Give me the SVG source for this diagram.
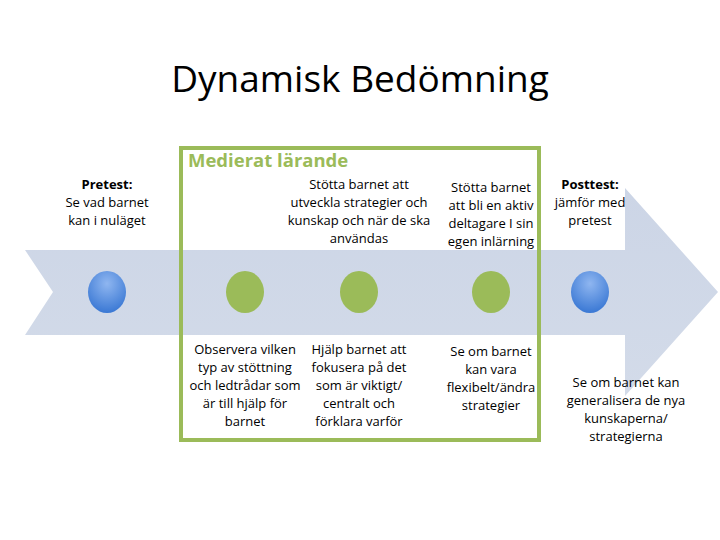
<svg xmlns="http://www.w3.org/2000/svg" width="720" height="540" viewBox="0 0 720 540">
<defs>
<linearGradient id="arr" x1="0" y1="0" x2="0" y2="1"><stop offset="0" stop-color="#ccd5e6"/><stop offset="1" stop-color="#d3dbe9"/></linearGradient>
<radialGradient id="blue" cx="0.5" cy="0.3" r="0.7"><stop offset="0" stop-color="#8fb6f0"/><stop offset="1" stop-color="#3a78d4"/></radialGradient>
<style>
.t{font-family:"Open Sans","Liberation Sans",sans-serif;font-size:13px;fill:#000;text-anchor:middle}
.b{font-weight:bold}
.g{fill:#9bbb59}
</style>
</defs>
<rect width="720" height="540" fill="#fff"/>
<text x="360" y="92" font-family="Open Sans, Liberation Sans, sans-serif" font-size="37" text-anchor="middle">Dynamisk Bedömning</text>
<g id="arrow"><polygon points="25,250 625,250 625,188 718,292 625,396 625,335 25,335 53,292" fill="url(#arr)"/></g>
<g id="box"><rect x="181" y="148" width="358" height="292" fill="none" stroke="#9bbb59" stroke-width="4"/>
<text x="188" y="167" font-family="Open Sans, Liberation Sans, sans-serif" font-size="18.5" font-weight="bold" fill="#9bbb59">Medierat lärande</text></g>
<g id="n1"><ellipse cx="107" cy="292" rx="19" ry="21" fill="url(#blue)"/>
<text class="t"><tspan x="107" y="189" class="b">Pretest:</tspan><tspan x="107" y="207">Se vad barnet</tspan><tspan x="107" y="225">kan i nuläget</tspan></text></g>
<g id="n2"><ellipse cx="245" cy="292" rx="19" ry="21" class="g"/>
<text class="t"><tspan x="245" y="354">Observera vilken</tspan><tspan x="245" y="372">typ av stöttning</tspan><tspan x="245" y="390">och ledtrådar som</tspan><tspan x="245" y="408">är till hjälp för</tspan><tspan x="245" y="426">barnet</tspan></text></g>
<g id="n3"><ellipse cx="359" cy="292" rx="19" ry="21" class="g"/>
<text class="t"><tspan x="359" y="189">Stötta barnet att</tspan><tspan x="359" y="207">utveckla strategier och</tspan><tspan x="359" y="225">kunskap och när de ska</tspan><tspan x="359" y="243">användas</tspan></text>
<text class="t"><tspan x="359" y="354">Hjälp barnet att</tspan><tspan x="359" y="372">fokusera på det</tspan><tspan x="359" y="390">som är viktigt/</tspan><tspan x="359" y="408">centralt och</tspan><tspan x="359" y="426">förklara varför</tspan></text></g>
<g id="n4"><ellipse cx="491" cy="292" rx="19" ry="21" class="g"/>
<text class="t"><tspan x="491" y="192">Stötta barnet</tspan><tspan x="491" y="210">att bli en aktiv</tspan><tspan x="491" y="228">deltagare I sin</tspan><tspan x="491" y="246">egen inlärning</tspan></text>
<text class="t"><tspan x="491" y="356">Se om barnet</tspan><tspan x="491" y="374">kan vara</tspan><tspan x="491" y="392">flexibelt/ändra</tspan><tspan x="491" y="410">strategier</tspan></text></g>
<g id="n5"><ellipse cx="590" cy="292" rx="19" ry="21" fill="url(#blue)"/>
<text class="t"><tspan x="590" y="189" class="b">Posttest:</tspan><tspan x="590" y="207">jämför med</tspan><tspan x="590" y="225">pretest</tspan></text>
<text class="t"><tspan x="626" y="387">Se om barnet kan</tspan><tspan x="626" y="405">generalisera de nya</tspan><tspan x="626" y="423">kunskaperna/</tspan><tspan x="626" y="441">strategierna</tspan></text></g>
<g id="connectors"/>
</svg>
